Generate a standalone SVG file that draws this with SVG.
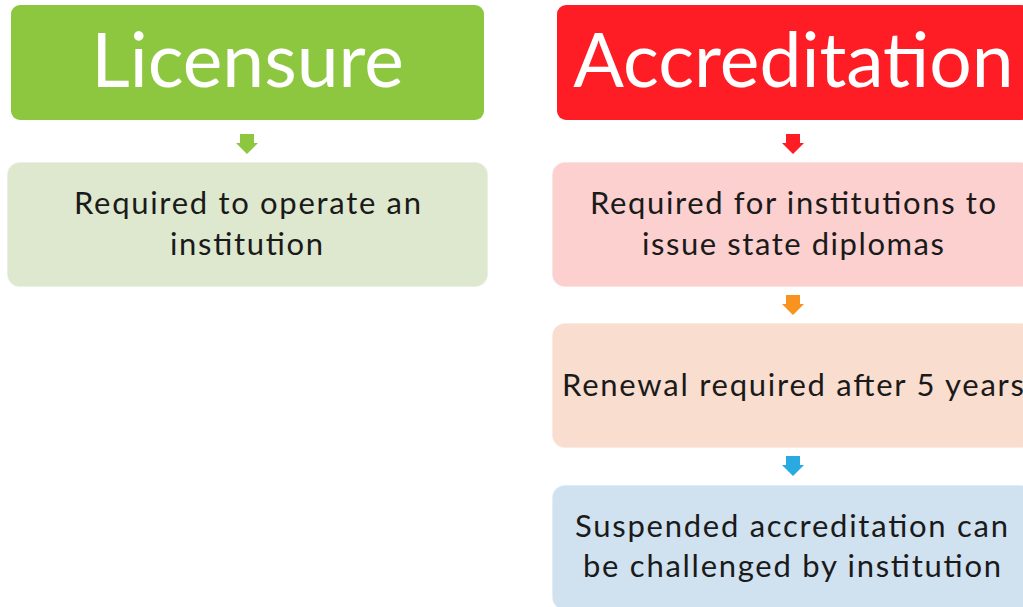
<svg xmlns="http://www.w3.org/2000/svg" width="1023" height="607" viewBox="0 0 1023 607">
<style>
.hdr{font-family:Lato,"Open Sans","Liberation Sans",sans-serif;font-size:75px;fill:#fff;text-anchor:middle}
.txt{font-family:Lato,"Open Sans","Liberation Sans",sans-serif;font-size:31px;fill:#1a1a1a;text-anchor:middle}
.box{stroke:#fff;stroke-opacity:0.5;stroke-width:1.5}
</style>
<rect width="1023" height="607" fill="#fff"/>
<g id="licensure"><rect x="11" y="5" width="473" height="115" rx="9" fill="#8DC63F"/><text class="hdr" x="247.5" y="87">Licensure</text></g>
<g id="lic-req"><rect class="box" x="7" y="162" width="481" height="125" rx="13" fill="#DDE8CF"/><text class="txt" x="247.5" y="214" textLength="347" lengthAdjust="spacing">Required to operate an</text><text class="txt" x="246.5" y="255" textLength="153" lengthAdjust="spacing">institution</text></g>
<g id="accreditation"><rect x="557" y="5" width="473" height="115" rx="9" fill="#FF1D25"/><text class="hdr" x="793.5" y="87">Accreditation</text></g>
<g id="acc-req"><rect class="box" x="552" y="162" width="482" height="125" rx="13" fill="#FBD0CF"/><text class="txt" x="793" y="214" textLength="406" lengthAdjust="spacing">Required for institutions to</text><text class="txt" x="793" y="255" textLength="302" lengthAdjust="spacing">issue state diplomas</text></g>
<g id="renewal"><rect class="box" x="552" y="323" width="482" height="125" rx="13" fill="#F9DDCF"/><text class="txt" x="793" y="396" textLength="462" lengthAdjust="spacing">Renewal required after 5 years</text></g>
<g id="suspended"><rect class="box" x="552" y="485" width="482" height="125" rx="13" fill="#D0E1F0"/><text class="txt" x="791.5" y="537" textLength="433" lengthAdjust="spacing">Suspended accreditation can</text><text class="txt" x="792" y="577" textLength="418" lengthAdjust="spacing">be challenged by institution</text></g>
<g id="connectors">
<path d="M240,134 h14 v9 h4 l-11,11 l-11,-11 h4 z" fill="#8DC63F"/>
<path d="M786,134 h14 v9 h4 l-11,11 l-11,-11 h4 z" fill="#FF1D25"/>
<path d="M786,295 h14 v9 h4 l-11,11 l-11,-11 h4 z" fill="#F7931E"/>
<path d="M786,456 h14 v9 h4 l-11,11 l-11,-11 h4 z" fill="#29ABE2"/>
</g>
</svg>
